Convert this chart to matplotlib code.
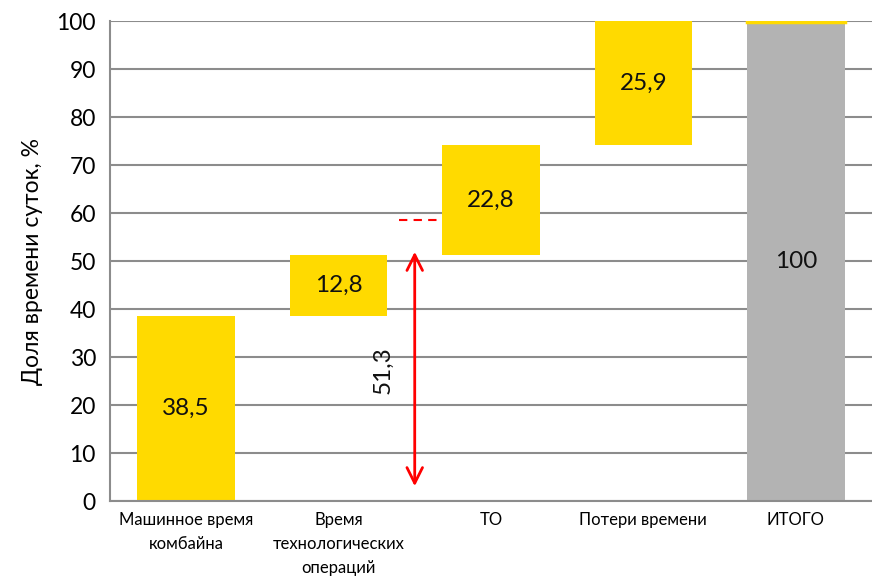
import matplotlib.pyplot as plt

plt.rcParams['font.family'] = ['Lato', 'DejaVu Sans']

categories = ['Машинное время\nкомбайна', 'Время\nтехнологических\nопераций',
              'ТО', 'Потери времени', 'ИТОГО']
values = [38.5, 12.8, 22.8, 25.9]
total = 100
labels = ['38,5', '12,8', '22,8', '25,9', '100']

yellow = '#FFDA00'
grey = '#B3B3B3'

# waterfall starts
bottoms = []
acc = 0
for v in values:
    bottoms.append(acc)
    acc += v

fig = plt.figure(figsize=(8.72, 5.77), dpi=100)
ax = fig.add_axes([0.126, 0.1317, 0.874, 0.8319])

x = list(range(len(categories)))
ax.bar(x[:4], values, bottom=bottoms, width=0.64, color=yellow, zorder=2)
ax.bar(x[4], total, width=0.64, color=grey, zorder=2)
ax.plot([x[4] - 0.32, x[4] + 0.32], [total - 0.2, total - 0.2], color=yellow, lw=2.5, zorder=3)

for i in range(4):
    ax.text(x[i], bottoms[i] + values[i] / 2, labels[i], ha='center', va='center', fontsize=17.5, color='#111111', zorder=4)
ax.text(x[4], 50, labels[4], ha='center', va='center', fontsize=17.5, color='#111111', zorder=4)

# arrow showing cumulative share
ax.annotate('', xy=(1.5, 2.5), xytext=(1.5, 52.5),
            arrowprops=dict(arrowstyle='<->', color='red', lw=2, mutation_scale=28), zorder=5)
ax.text(1.29, 27.3, '51,3', rotation=90, ha='center', va='center', fontsize=17.5, color='#111111')
ax.plot([1.40, 1.66], [58.5, 58.5], color='red', lw=1.5, ls=(0, (4, 3)), zorder=5)

ax.set_xlim(-0.5, 4.5)
ax.set_ylim(0, 100)
ax.set_yticks(range(0, 101, 10))
ax.set_xticks(x)
ax.set_xticklabels(categories, fontsize=12, linespacing=1.6)
ax.tick_params(axis='y', labelsize=16.5, length=0, pad=10)
ax.tick_params(axis='x', length=0, pad=8)
ax.yaxis.grid(True, color='#8C8C8C', lw=1.5, zorder=0)
ax.set_axisbelow(True)
for s in ['top', 'right']:
    ax.spines[s].set_visible(False)
for s in ['left', 'bottom']:
    ax.spines[s].set_color('#8C8C8C')
    ax.spines[s].set_linewidth(1.5)
ax.set_ylabel('Доля времени суток, %', fontsize=16.5, labelpad=10)

fig.savefig('out.png', dpi=100)
